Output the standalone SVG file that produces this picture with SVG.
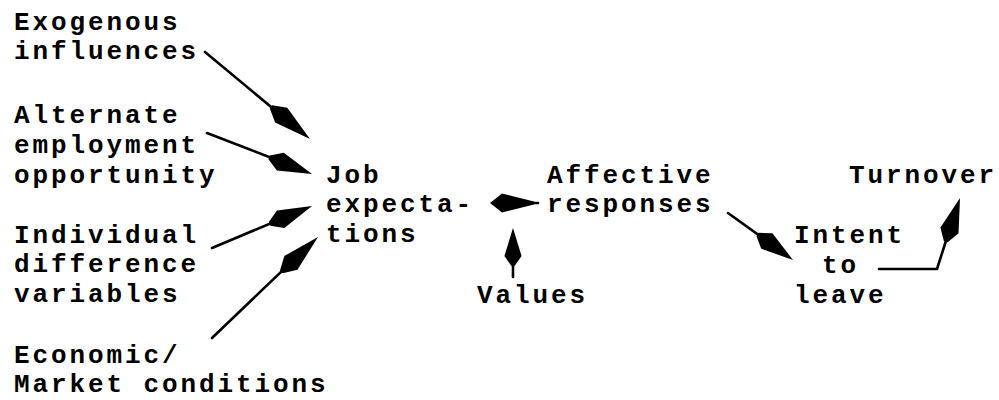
<svg xmlns="http://www.w3.org/2000/svg" width="999" height="400" viewBox="0 0 999 400">
<style>
text{font-family:"Liberation Mono","Courier New",monospace;font-weight:bold;font-size:26px;letter-spacing:2.9px;fill:#000}
.c{stroke:#000;stroke-width:2.6;fill:none;stroke-linecap:round;stroke-linejoin:round}
.h{fill:#000}
</style>
<defs>
<path id="head" class="h" d="M0,0 L-34,-9.5 L-46,-2 L-46,2 L-34,9.5 Z"/>
<path id="headF" class="h" d="M0,0 L12,-9.5 L44,-1.5 L44,1.5 L12,9.5 Z"/>
</defs>
<rect width="999" height="400" fill="#fff"/>
<g id="connectors">
<line class="c" x1="205" y1="52" x2="300" y2="131"/>
<use href="#head" transform="translate(310,139) rotate(39.6) scale(1.1,1)"/>
<line class="c" x1="207" y1="133" x2="300" y2="169"/>
<use href="#head" transform="translate(312,174) rotate(21.3)"/>
<line class="c" x1="212" y1="248" x2="300" y2="211"/>
<use href="#head" transform="translate(312,206) rotate(-22.8)"/>
<line class="c" x1="212" y1="338" x2="305" y2="249"/>
<use href="#head" transform="translate(318,237) rotate(-43.6) scale(1.1,1)"/>
<line class="c" x1="538" y1="203" x2="500" y2="203"/>
<use href="#headF" transform="translate(490,203)"/>
<line class="c" x1="513" y1="277" x2="513" y2="240"/>
<use href="#head" transform="translate(513,228) rotate(-90) scale(0.82,0.9)"/>
<line class="c" x1="728" y1="213" x2="785" y2="254"/>
<use href="#head" transform="translate(793,260) rotate(35.9) scale(0.95,1)"/>
<polyline class="c" points="879,269 937,269 952,222"/>
<use href="#head" transform="translate(960,198) rotate(-72)"/>
</g>
<g id="exogenous"><text x="14" y="30">Exogenous</text><text x="14" y="59">influences</text></g>
<g id="alternate"><text x="14" y="123">Alternate</text><text x="14" y="153">employment</text><text x="14" y="183">opportunity</text></g>
<g id="individual"><text x="14" y="243">Individual</text><text x="14" y="272">difference</text><text x="14" y="302">variables</text></g>
<g id="economic"><text x="14" y="363">Economic/</text><text x="14" y="392">Market conditions</text></g>
<g id="job"><text x="326" y="183">Job</text><text x="326" y="212">expecta-</text><text x="326" y="242">tions</text></g>
<g id="affective"><text x="547" y="183">Affective</text><text x="547" y="212">responses</text></g>
<g id="values"><text x="477" y="303">Values</text></g>
<g id="intent"><text x="794" y="243">Intent</text><text x="822" y="273">to</text><text x="794" y="303">leave</text></g>
<g id="turnover"><text x="849" y="183">Turnover</text></g>
</svg>
